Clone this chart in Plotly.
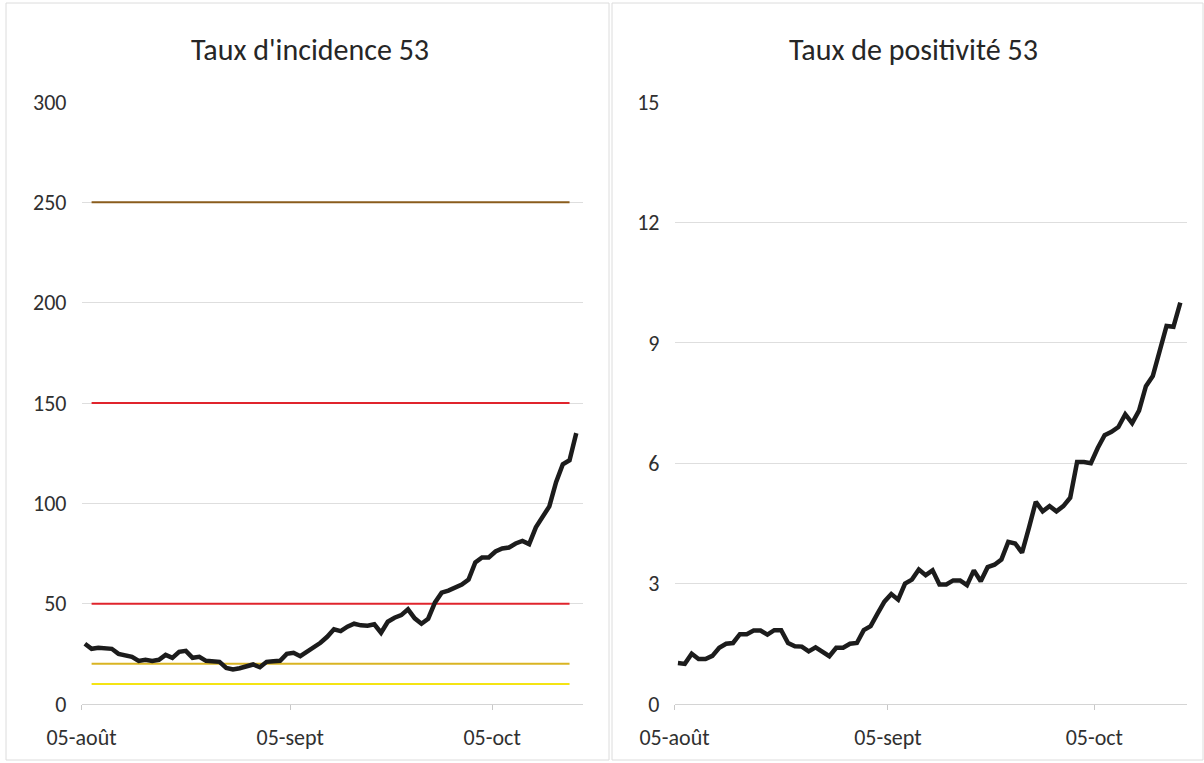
import pandas as pd
import plotly.graph_objects as go

# ---------------- data ----------------
dates = pd.date_range("2020-08-05", "2020-10-17", freq="D")

incidence = [30, 27.5, 28, 28, 27.5, 25, 24, 23.5, 21.5, 22,
             21.5, 22, 24.5, 23, 26, 26.5, 23, 23.5, 21.5, 21,
             21, 18, 17.2, 17.8, 18.5, 19.7, 18.3, 21, 21.3, 21.5,
             25, 25.5, 23.8, 26, 28, 30.5, 33.5, 37.2, 36.3, 38.5,
             40, 39.2, 39, 39.7, 35.5, 41, 43, 44.3, 47.2, 42.7,
             40, 42.5, 50.5, 55.5, 56.5, 58, 59.5, 62, 70.5, 73,
             73, 76, 77.5, 78, 80, 81.3, 79.7, 88, 93, 98.5,
             110.5, 119.5, 121.5, 135]

positivite = [1.02, 1.0, 1.25, 1.12, 1.12, 1.2, 1.4, 1.5, 1.52, 1.74,
              1.74, 1.83, 1.83, 1.73, 1.84, 1.84, 1.52, 1.44, 1.43, 1.31,
              1.41, 1.3, 1.19, 1.4, 1.4, 1.5, 1.52, 1.84, 1.94, 2.25,
              2.55, 2.74, 2.6, 3.0, 3.1, 3.35, 3.21, 3.33, 2.98, 2.98,
              3.08, 3.08, 2.96, 3.33, 3.06, 3.41, 3.47, 3.6, 4.04, 4.0,
              3.77, 4.39, 5.04, 4.8, 4.93, 4.8, 4.93, 5.14, 6.03, 6.03,
              6.0, 6.38, 6.7, 6.78, 6.9, 7.22, 7.0, 7.31, 7.92, 8.17,
              8.75, 9.42, 9.4, 10.0]

threshold_values = [250, 150, 50, 20, 10]
threshold_colors = ["#8a5c1c", "#e0242c", "#e0242c", "#d9b423", "#f4e414"]
threshold_dates = dates[1:73]

titles = ["Taux d'incidence 53", "Taux de positivité 53"]
tick_dates = ["2020-08-04 12:00", "2020-09-04 12:00", "2020-10-04 12:00"]
tick_labels = ["05-août", "05-sept", "05-oct"]
x_range = ["2020-08-04 12:00", "2020-10-18 00:00"]

# ---------------- figure ----------------
W, H = 1204, 763
FONT = "Carlito, Calibri, Lato, 'Open Sans', sans-serif"

fig = go.Figure()

for v, c in zip(threshold_values, threshold_colors):
    fig.add_trace(go.Scatter(x=threshold_dates, y=[v] * len(threshold_dates),
                             mode="lines", line=dict(color=c, width=2),
                             xaxis="x", yaxis="y", hoverinfo="skip"))

fig.add_trace(go.Scatter(x=dates, y=incidence, mode="lines",
                         line=dict(color="#1c1c1c", width=4.5),
                         xaxis="x", yaxis="y"))
fig.add_trace(go.Scatter(x=dates, y=positivite, mode="lines",
                         line=dict(color="#1c1c1c", width=4.5),
                         xaxis="x2", yaxis="y2"))

ydom = [1 - 704 / H, 1 - 102 / H]

xcommon = dict(type="date", range=x_range, tickmode="array",
               tickvals=tick_dates, ticktext=tick_labels,
               showgrid=False, zeroline=False, showline=True,
               linecolor="#d4d4d4", linewidth=1, automargin=False,
               ticks="outside", ticklen=5, tickcolor="#c8c8c8",
               tickfont=dict(family=FONT, size=22, color="#303030"),
               ticklabelstandoff=9)
ycommon = dict(showgrid=True, gridcolor="#dedede", gridwidth=1,
               zeroline=False, showline=False, ticks="", automargin=False,
               tickfont=dict(family=FONT, size=22, color="#303030"),
               ticklabelstandoff=14)

fig.update_layout(
    width=W, height=H,
    margin=dict(l=0, r=0, t=0, b=0, pad=0, autoexpand=False),
    paper_bgcolor="white", plot_bgcolor="white",
    showlegend=False,
    xaxis=dict(domain=[81.5 / W, 583 / W], anchor="y", **xcommon),
    yaxis=dict(domain=ydom, anchor="x", range=[0, 300],
               tickvals=[0, 50, 100, 150, 200, 250, 300], **ycommon),
    xaxis2=dict(domain=[674.5 / W, 1187.2 / W], anchor="y2", **xcommon),
    yaxis2=dict(domain=ydom, anchor="x2", range=[0, 15],
                tickvals=[0, 3, 6, 9, 12, 15], **ycommon),
)

fig.add_annotation(text=titles[0], xref="paper", yref="paper",
                   x=310 / W, y=1 - 49 / H, xanchor="center", yanchor="middle",
                   showarrow=False, font=dict(family=FONT, size=30, color="#262626"))
fig.add_annotation(text=titles[1], xref="paper", yref="paper",
                   x=913 / W, y=1 - 49 / H, xanchor="center", yanchor="middle",
                   showarrow=False, font=dict(family=FONT, size=30, color="#262626"))

# chart frames
fig.add_shape(type="rect", xref="paper", yref="paper",
              x0=6 / W, x1=609 / W, y0=1 - 760 / H, y1=1 - 3 / H,
              line=dict(color="#dcdcdc", width=1), layer="below")
fig.add_shape(type="rect", xref="paper", yref="paper",
              x0=612 / W, x1=1203 / W, y0=1 - 760 / H, y1=1 - 3 / H,
              line=dict(color="#dcdcdc", width=1), layer="below")

fig.write_html("out.html", config={"displayModeBar": False},
               post_script="document.body.style.margin='0';")
